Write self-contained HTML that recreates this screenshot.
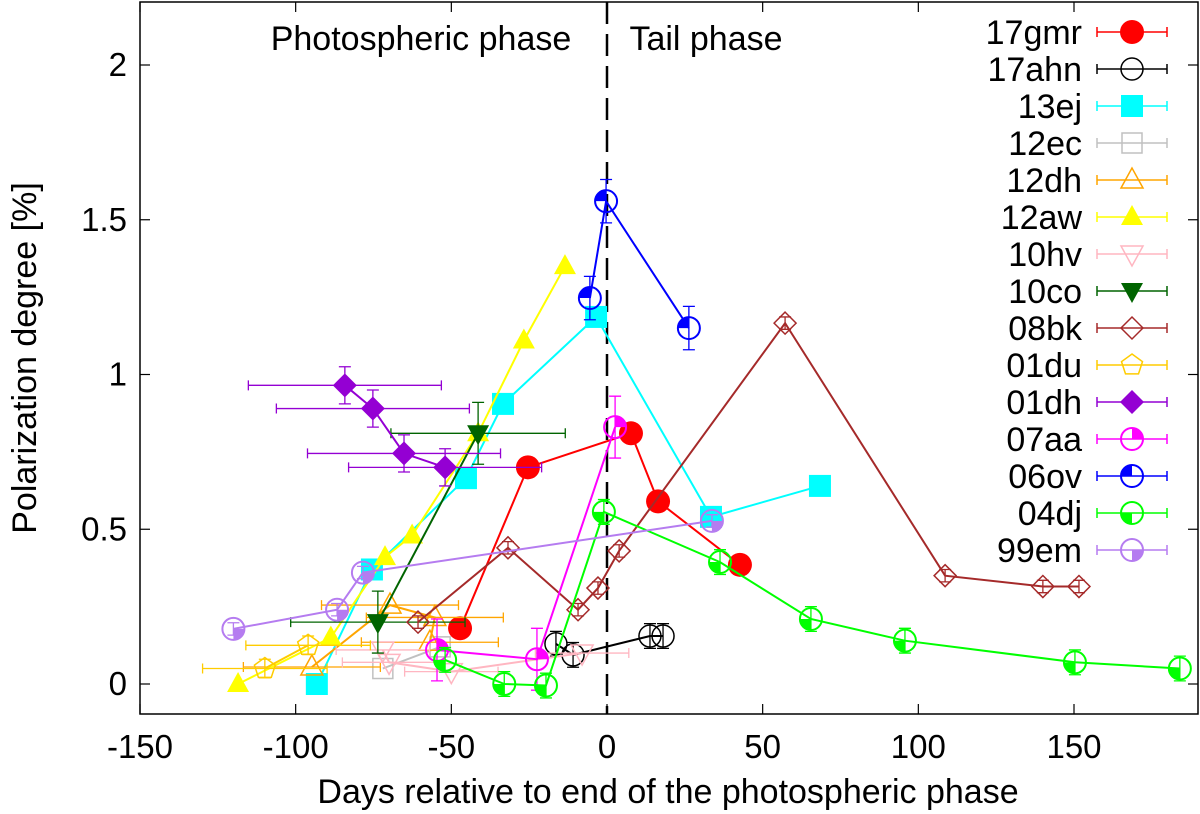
<!DOCTYPE html>
<html><head><meta charset="utf-8"><style>
html,body{margin:0;padding:0;background:#fff;}
svg{display:block;font-family:"Liberation Sans",Arial,sans-serif;}
</style></head><body>
<svg id="chart" width="1200" height="814" viewBox="0 0 1200 814" xmlns="http://www.w3.org/2000/svg"></svg>
<script>
const xTicks = [-150, -100, -50, 0, 50, 100, 150];
const yTicks = [0, 0.5, 1, 1.5, 2];
const yTickLabels = ["0", "0.5", "1", "1.5", "2"];
const names = ["17gmr","17ahn","13ej","12ec","12dh","12aw","10hv","10co","08bk","01du","01dh","07aa","06ov","04dj","99em"];
const x17gmr = [-47.2, -25.4, 7.7, 16.4, 42.7];
const y17gmr = [0.18, 0.70, 0.81, 0.59, 0.385];
const x17ahn = [-16.4, -10.9, 13.8, 18];
const y17ahn = [0.13, 0.094, 0.155, 0.155];
const x13ej = [-93.2, -75.5, -45.3, -33.4, -3.5, 33.4, 68.4];
const y13ej = [0, 0.37, 0.665, 0.905, 1.186, 0.54, 0.64];
const x12ec = [-72, -53.6];
const y12ec = [0.05, 0.12];
const x12dh = [-94.8, -69.7, -55.3, -56.9];
const y12dh = [0.055, 0.255, 0.215, 0.135];
const x12aw = [-118.5, -88.7, -71.3, -62.6, -41.4, -26.7, -13.5];
const y12aw = [0, 0.15, 0.41, 0.48, 0.81, 1.11, 1.35];
const x10hv = [-72, -70, -50, -8];
const y10hv = [0.11, 0.07, 0.04, 0.10];
const x10co = [-73.6, -41.4];
const y10co = [0.20, 0.81];
const x08bk = [-60.7, -31.8, -9.3, -2.9, 3.9, 57.2, 108.6, 140, 151.6];
const y08bk = [0.2, 0.44, 0.24, 0.31, 0.43, 1.166, 0.35, 0.315, 0.315];
const x01du = [-109.9, -96];
const y01du = [0.05, 0.125];
const x01dh = [-84.2, -75.2, -65.2, -52];
const y01dh = [0.965, 0.89, 0.745, 0.70];
const x07aa = [-54.6, -22.5, 2.6];
const y07aa = [0.11, 0.08, 0.83];
const x06ov = [-5.5, -0.3, 26.3];
const y06ov = [1.247, 1.56, 1.15];
const x04dj = [-52, -33, -19.6, -1, 36.3, 65.5, 95.7, 150.3, 184];
const y04dj = [0.078, 0, -0.005, 0.556, 0.394, 0.21, 0.14, 0.07, 0.05];
const x99em = [-120, -86.7, -78.4, 33.7];
const y99em = [0.178, 0.24, 0.36, 0.527];

const X0=140,X1=1198,Y0=2,Y1=714;
function sx(v){return 607 + v*(467/150);}
function sy(v){return 684 - v*309.5;}
const svg=document.getElementById('chart');
const NS='http://www.w3.org/2000/svg';
function mk(tag,attrs,parent){const e=document.createElementNS(NS,tag);for(const k in attrs)e.setAttribute(k,attrs[k]);(parent||svg).appendChild(e);return e;}

const series=[
 {n:"17gmr",x:x17gmr,y:y17gmr,c:"#ff0000",m:"fcircle"},
 {n:"17ahn",x:x17ahn,y:y17ahn,c:"#000000",m:"ocircle",ye:0.04},
 {n:"13ej",x:x13ej,y:y13ej,c:"#00ffff",m:"fsquare",ye:0.03},
 {n:"12ec",x:x12ec,y:y12ec,c:"#c0c0c0",m:"osquare"},
 {n:"12dh",x:x12dh,y:y12dh,c:"#ffa500",m:"otri",xe:22},
 {n:"12aw",x:x12aw,y:y12aw,c:"#ffff00",m:"ftri"},
 {n:"10hv",x:x10hv,y:y10hv,c:"#ffb6c1",m:"oitri",xe:15},
 {n:"10co",x:x10co,y:y10co,c:"#006400",m:"fitri",xe:28,ye:0.1},
 {n:"08bk",x:x08bk,y:y08bk,c:"#a52a2a",m:"odiam",ye:0.02},
 {n:"01du",x:x01du,y:y01du,c:"#ffcc00",m:"opent",xe:20,ye:0.03},
 {n:"01dh",x:x01dh,y:y01dh,c:"#9400d3",m:"fdiam",xe:31,ye:0.06},
 {n:"07aa",x:x07aa,y:y07aa,c:"#ff00ff",m:"q",q:1,ye:0.1},
 {n:"06ov",x:x06ov,y:y06ov,c:"#0000ff",m:"q",q:0,ye:0.07},
 {n:"04dj",x:x04dj,y:y04dj,c:"#00ff00",m:"q",q:2,ye:0.04},
 {n:"99em",x:x99em,y:y99em,c:"#b57cf0",m:"q",q:3,ye:0.02}
];

function marker(g,m,cx,cy,c,q){
 const r=11;
 if(m==="fcircle")mk('circle',{cx,cy,r:12,fill:c},g);
 else if(m==="ocircle")mk('circle',{cx,cy,r:r,fill:"none",stroke:c,"stroke-width":1.5},g);
 else if(m==="fsquare")mk('rect',{x:cx-11,y:cy-11,width:22,height:22,fill:c},g);
 else if(m==="osquare")mk('rect',{x:cx-10,y:cy-10,width:20,height:20,fill:"none",stroke:c,"stroke-width":1.5},g);
 else if(m==="ftri")mk('polygon',{points:`${cx},${cy-12} ${cx-11},${cy+8} ${cx+11},${cy+8}`,fill:c},g);
 else if(m==="otri")mk('polygon',{points:`${cx},${cy-12} ${cx-11},${cy+8} ${cx+11},${cy+8}`,fill:"none",stroke:c,"stroke-width":1.5},g);
 else if(m==="fitri")mk('polygon',{points:`${cx},${cy+12} ${cx-11},${cy-8} ${cx+11},${cy-8}`,fill:c},g);
 else if(m==="oitri")mk('polygon',{points:`${cx},${cy+12} ${cx-11},${cy-8} ${cx+11},${cy-8}`,fill:"none",stroke:c,"stroke-width":1.5},g);
 else if(m==="fdiam")mk('polygon',{points:`${cx},${cy-12} ${cx+12},${cy} ${cx},${cy+12} ${cx-12},${cy}`,fill:c},g);
 else if(m==="odiam")mk('polygon',{points:`${cx},${cy-11} ${cx+11},${cy} ${cx},${cy+11} ${cx-11},${cy}`,fill:"none",stroke:c,"stroke-width":1.5},g);
 else if(m==="opent"){let p=[];for(let i=0;i<5;i++){const a=-Math.PI/2+i*2*Math.PI/5;p.push((cx+11*Math.cos(a)).toFixed(1)+","+(cy+11*Math.sin(a)).toFixed(1));}mk('polygon',{points:p.join(' '),fill:"none",stroke:c,"stroke-width":1.5},g);}
 else if(m==="q"){
  const dx=(q===1||q===3)?r:-r, dy=(q===2||q===3)?r:-r;
  mk('path',{d:`M${cx},${cy} L${cx+dx},${cy} A${r},${r} 0 0 ${(dx*dy>0)?1:0} ${cx},${cy+dy} Z`,fill:c},g);
  mk('circle',{cx,cy,r:r,fill:"none",stroke:c,"stroke-width":2},g);
 }
}

const ax=mk('g',{});


xTicks.forEach(t=>{const x=sx(t);
 mk('line',{x1:x,y1:Y1,x2:x,y2:Y1-10,stroke:"#000","stroke-width":1.2},ax);
 mk('line',{x1:x,y1:Y0,x2:x,y2:Y0+10,stroke:"#000","stroke-width":1.2},ax);
 const tl=mk('text',{x:x,y:758,"font-size":33,"text-anchor":"middle"},ax);tl.textContent=t;
 
 
});
yTicks.forEach((t,i)=>{const y=sy(t);
 mk('line',{x1:X0,y1:y,x2:X0+10,y2:y,stroke:"#000","stroke-width":1.2},ax);
 mk('line',{x1:X1,y1:y,x2:X1-10,y2:y,stroke:"#000","stroke-width":1.2},ax);
 const tl=mk('text',{x:127,y:y+11,"font-size":33,"text-anchor":"end"},ax);tl.textContent=yTickLabels[i];
 
 
});
const dl=mk('line',{x1:sx(0),y1:Y0,x2:sx(0),y2:Y1,stroke:"#000","stroke-width":2.5,"stroke-dasharray":"22,10"});


const t1=mk('text',{x:421,y:50,"font-size":34,"text-anchor":"middle"});t1.textContent="Photospheric phase";


const t2=mk('text',{x:706,y:50,"font-size":34,"text-anchor":"middle"});t2.textContent="Tail phase";



series.forEach(s=>{
 const g=mk('g',{});
 
 
 const pts=s.x.map((v,i)=>sx(v).toFixed(1)+","+sy(s.y[i]).toFixed(1)).join(' ');
 mk('polyline',{points:pts,fill:"none",stroke:s.c,"stroke-width":2},g);
 s.x.forEach((v,i)=>{
  const cx=sx(v),cy=sy(s.y[i]);
  if(s.xe){const a=sx(v-s.xe),b=sx(v+s.xe);mk('path',{d:`M${a},${cy}H${b}M${a},${cy-5}V${cy+5}M${b},${cy-5}V${cy+5}`,stroke:s.c,"stroke-width":1.3,fill:"none"},g);}
  if(s.ye){const a=sy(s.y[i]+s.ye),b=sy(s.y[i]-s.ye);mk('path',{d:`M${cx},${a}V${b}M${cx-6},${a}H${cx+6}M${cx-6},${b}H${cx+6}`,stroke:s.c,"stroke-width":1.3,fill:"none"},g);}
  const mg=mk('g',{},g);
  
  
  marker(mg,s.m,cx,cy,s.c,s.q);
 });
});

mk('rect',{x:X0,y:Y0,width:X1-X0,height:Y1-Y0,fill:"none",stroke:"#000","stroke-width":1.5});

const lg=mk('g',{});


series.forEach((s,i)=>{
 const y=32+i*37;
 const e=mk('g',{},lg);
 
 
 const tx=mk('text',{x:1082,y:y+12,"font-size":34,"text-anchor":"end"},e);tx.textContent=s.n;
 mk('path',{d:`M1097,${y}H1167M1097,${y-5}V${y+5}M1167,${y-5}V${y+5}`,stroke:s.c,"stroke-width":1.5,fill:"none"},e);
 marker(e,s.m,1132,y,s.c,s.q);
});

const xt=mk('text',{x:668,y:803,"font-size":34,"text-anchor":"middle"});xt.textContent="Days relative to end of the photospheric phase";


const yt=mk('text',{x:0,y:0,"font-size":34,"text-anchor":"middle",transform:"translate(36,358) rotate(-90)"});yt.textContent="Polarization degree [%]";


</script>
</body></html>
